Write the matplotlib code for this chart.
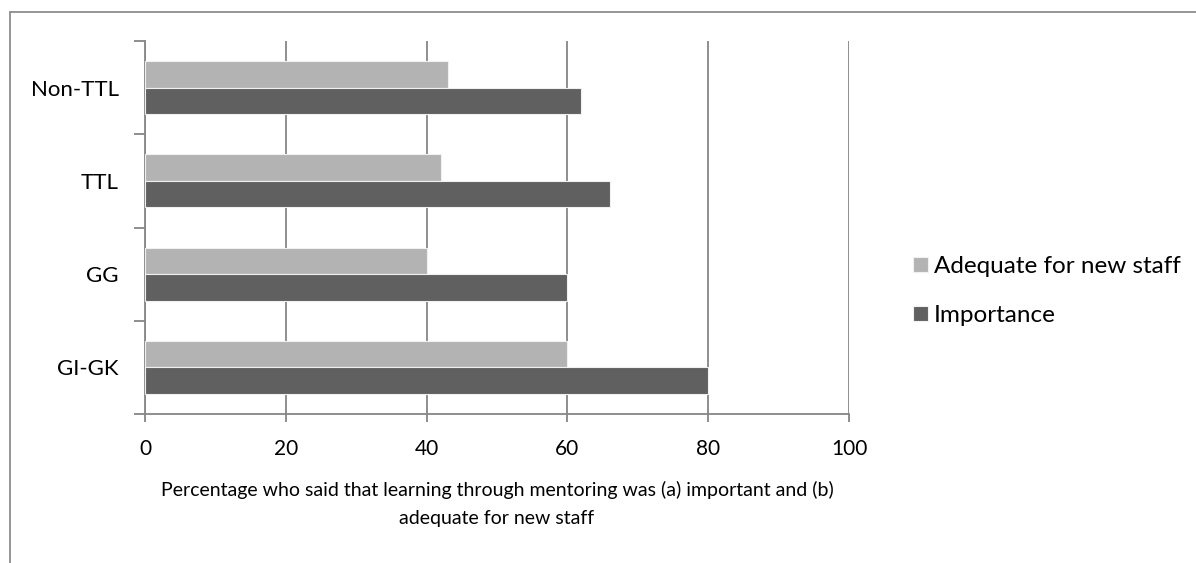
import matplotlib.pyplot as plt
import numpy as np
from matplotlib.patches import Rectangle

plt.rcParams['font.family'] = ['Lato', 'DejaVu Sans']

groups = ["GI-GK", "GG", "TTL", "Non-TTL"]
adequate = [60, 40, 42, 43]
importance = [80, 60, 66, 62]
xticks = [0, 20, 40, 60, 80, 100]

fig = plt.figure(figsize=(11.96, 5.63), dpi=100)
ax = fig.add_axes([145/1196, 1 - 414/563, (849-145)/1196, (414-41)/563])

# outer chart border
fig.patches.append(Rectangle((10/1196, -0.05), 1.1, 1 - 12/563 + 0.05,
                             transform=fig.transFigure, fill=False,
                             edgecolor='#8c8c8c', linewidth=1.3))

y = np.arange(len(groups))
h = 0.285
ax.barh(y + h/2, adequate, height=h, color='#b3b3b3', edgecolor='#f0f0f0',
        linewidth=0.8, label='Adequate for new staff', zorder=3)
ax.barh(y - h/2, importance, height=h, color='#606060', edgecolor='#f0f0f0',
        linewidth=0.8, label='Importance', zorder=3)

ax.set_xlim(0, 100)
ax.set_ylim(-0.5, len(groups) - 0.5)
ax.set_xticks(xticks)
ax.set_xticklabels([str(t) for t in xticks], fontsize=15)
ax.set_yticks(y)
ax.set_yticklabels(groups, fontsize=16)
ax.set_yticks(np.arange(len(groups) + 1) - 0.5, minor=True)
ax.tick_params(axis='y', which='major', length=0, pad=19)
ax.tick_params(axis='y', which='minor', length=8, color='#868686', width=1.3)
ax.tick_params(axis='x', length=6, color='#868686', width=1.3, pad=12)

ax.grid(axis='x', color='#868686', linewidth=1.3, zorder=0)
for s in ['top', 'right']:
    ax.spines[s].set_visible(False)
for s in ['left', 'bottom']:
    ax.spines[s].set_color('#868686')
    ax.spines[s].set_linewidth(1.3)

ax.set_xlabel("Percentage who said that learning through mentoring was (a) important and (b)\nadequate for new staff",
              fontsize=14, labelpad=16, linespacing=1.8)

handles, labels = ax.get_legend_handles_labels()
fig.legend(handles, labels, loc='center left', bbox_to_anchor=(913/1196, 1 - 291/563),
           frameon=False, fontsize=17.5, handlelength=0.62, handleheight=0.62,
           handletextpad=0.25, labelspacing=1.15, borderpad=0, borderaxespad=0)

fig.savefig('out.png', dpi=100)
